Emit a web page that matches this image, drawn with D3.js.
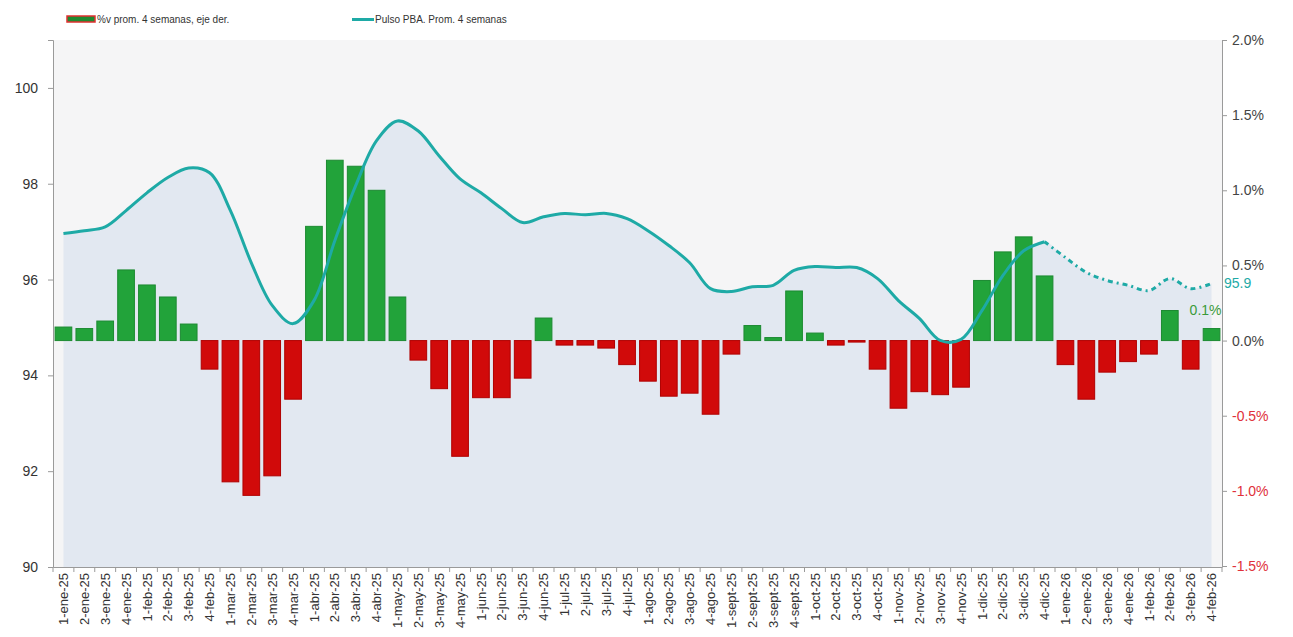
<!DOCTYPE html>
<html>
<head>
<meta charset="utf-8">
<script src="https://cdn.jsdelivr.net/npm/d3@7"></script>
<style>
  body { margin: 0; background: #fff; font-family: "Liberation Sans", Arial, sans-serif; }
  svg text { font-family: "Liberation Sans", Arial, sans-serif; }
</style>
</head>
<body>
<svg id="chart" width="1293" height="637"></svg>
<script>
// semanas (1..4) de cada mes
var meses = ["ene-25","feb-25","mar-25","abr-25","may-25","jun-25","jul-25","ago-25",
             "sept-25","oct-25","nov-25","dic-25","ene-26","feb-26"];
var semanas = [];
meses.forEach(function(m){ [1,2,3,4].forEach(function(s){ semanas.push(s + "-" + m); }); });

// %v prom. 4 semanas (eje derecho)
var variacion = [0.09,0.08,0.13,0.47, 0.37,0.29,0.11,-0.19, -0.94,-1.03,-0.90,-0.39,
                 0.76,1.20,1.16,1.00, 0.29,-0.13,-0.32,-0.77, -0.38,-0.38,-0.25,0.15,
                 -0.03,-0.03,-0.05,-0.16, -0.27,-0.37,-0.35,-0.49, -0.09,0.10,0.02,0.33,
                 0.05,-0.03,-0.01,-0.19, -0.45,-0.34,-0.36,-0.31, 0.40,0.59,0.69,0.43,
                 -0.16,-0.39,-0.21,-0.14, -0.09,0.20,-0.19,0.08];

// Pulso PBA, prom. 4 semanas (eje izquierdo)
var pulso = [96.96,97.02,97.10,97.44, 97.81,98.13,98.33,98.23, 97.44,96.35,95.46,95.08,
             95.56,96.81,97.96,98.90, 99.31,99.10,98.58,98.10, 97.81,97.48,97.19,97.31,
             97.38,97.35,97.38,97.27, 97.02,96.71,96.35,95.81, 95.75,95.85,95.88,96.19,
             96.27,96.25,96.25,96.02, 95.56,95.19,94.73,94.75, 95.35,96.08,96.60,96.79,
             96.46,96.15,95.98,95.88, 95.77,96.02,95.81,95.92];
var ultimoFirme = 47; // desde aquí la línea va punteada

var ticksIzq = [90,92,94,96,98,100];
var ticksDer = [-1.5,-1.0,-0.5,0.0,0.5,1.0,1.5,2.0];

var mL = 53, mR = 1222, mT = 40, mB = 567;
var svg = d3.select("#chart");

var x = d3.scaleBand().domain(semanas).range([mL, mR]).paddingInner(0.2).paddingOuter(0.1);
var xb = d3.scaleBand().domain(semanas).range([mL, mR]);
var yL = d3.scaleLinear().domain([90, 101]).range([mB, mT]);
var yR = d3.scaleLinear().domain([-1.5, 2.0]).range([mB - 1, mT]);
var cx = function(i){ return xb(semanas[i]) + xb.bandwidth() / 2; };
var curva = d3.curveCatmullRom.alpha(0.5);

// fondo
svg.append("rect").attr("x", mL).attr("y", mT).attr("width", mR - mL).attr("height", mB - mT)
  .attr("fill", "#f5f5f6");

// área bajo la línea
var area = d3.area().x(function(d, i){ return cx(i); }).y0(mB).y1(function(d){ return yL(d); })
  .curve(curva);
svg.append("path").datum(pulso).attr("d", area).attr("fill", "#e2e8f1");

// barras
svg.append("g").selectAll("rect").data(variacion).join("rect")
  .attr("x", function(d, i){ return x(semanas[i]); })
  .attr("width", x.bandwidth())
  .attr("y", function(d){ return d >= 0 ? yR(d) : yR(0); })
  .attr("height", function(d){ return Math.max(1.5, Math.abs(yR(d) - yR(0))); })
  .attr("fill", function(d){ return d >= 0 ? "#22a33a" : "#d10a0a"; })
  .attr("stroke", function(d){ return d >= 0 ? "#1c8a31" : "#b00000"; })
  .attr("stroke-width", 1);

// línea
var line = d3.line().x(function(d){ return cx(d.i); }).y(function(d){ return yL(d.v); }).curve(curva);
var pts = pulso.map(function(v, i){ return { i: i, v: v }; });
svg.append("path").datum(pts.slice(0, ultimoFirme + 1)).attr("d", line)
  .attr("fill", "none").attr("stroke", "#1eaaa6").attr("stroke-width", 3);
svg.append("path").datum(pts.slice(ultimoFirme)).attr("d", line)
  .attr("fill", "none").attr("stroke", "#1eaaa6").attr("stroke-width", 3)
  .attr("stroke-dasharray", "5,4,2,4");

// ejes
var axL = svg.append("g").attr("transform", "translate(" + mL + ",0)")
  .call(d3.axisLeft(yL).tickValues(ticksIzq).tickSize(5).tickPadding(10));
var axR = svg.append("g").attr("transform", "translate(" + mR + ",0)")
  .call(d3.axisRight(yR).tickValues(ticksDer).tickSize(5).tickPadding(5)
    .tickFormat(function(d){ return d.toFixed(1) + "%"; }));
var axB = svg.append("g").attr("transform", "translate(0," + mB + ")")
  .call(d3.axisBottom(x).tickSize(0).tickPadding(4));

[axL, axR, axB].forEach(function(g){
  g.select(".domain").attr("stroke", "#9a9a9a");
  g.selectAll(".tick line").attr("stroke", "#9a9a9a");
});
axL.selectAll("text").attr("font-size", 14).attr("fill", "#333");
axR.selectAll("text").attr("font-size", 14)
  .attr("fill", function(d){ return d < 0 ? "#e0303a" : "#444"; });
axB.selectAll(".tick text").attr("font-size", 13).attr("fill", "#333")
  .attr("transform", "rotate(-90)").attr("text-anchor", "end")
  .attr("x", -6).attr("y", 0).attr("dy", "0.35em");
// ticks en los bordes de las categorías
svg.append("g").selectAll("line").data(semanas.concat([null])).join("line")
  .attr("x1", function(d, i){ return mL + i * xb.bandwidth(); })
  .attr("x2", function(d, i){ return mL + i * xb.bandwidth(); })
  .attr("y1", mB).attr("y2", mB + 5).attr("stroke", "#9a9a9a");

// etiquetas finales
var n = pulso.length - 1;
svg.append("text").attr("x", mR + 2).attr("y", yL(pulso[n]) + 5)
  .attr("font-size", 14).attr("fill", "#1eaaa6").text(pulso[n].toFixed(1));
svg.append("text").attr("x", cx(n) - 6).attr("y", yR(variacion[n]) - 14).attr("text-anchor", "middle")
  .attr("font-size", 14).attr("fill", "#3a9a3a").text(variacion[n].toFixed(1) + "%");

// leyenda
var lg = svg.append("g").attr("font-size", 10).attr("fill", "#333");
lg.append("rect").attr("x", 67).attr("y", 16).attr("width", 28).attr("height", 6)
  .attr("fill", "#1f8a30").attr("stroke", "#e03030").attr("stroke-width", 1.5);
lg.append("text").attr("x", 97).attr("y", 23).text("%v prom. 4 semanas, eje der.");
lg.append("line").attr("x1", 352).attr("x2", 374).attr("y1", 19.5).attr("y2", 19.5)
  .attr("stroke", "#1eaaa6").attr("stroke-width", 3);
lg.append("text").attr("x", 375).attr("y", 23).text("Pulso PBA. Prom. 4 semanas");
</script>
</body>
</html>
